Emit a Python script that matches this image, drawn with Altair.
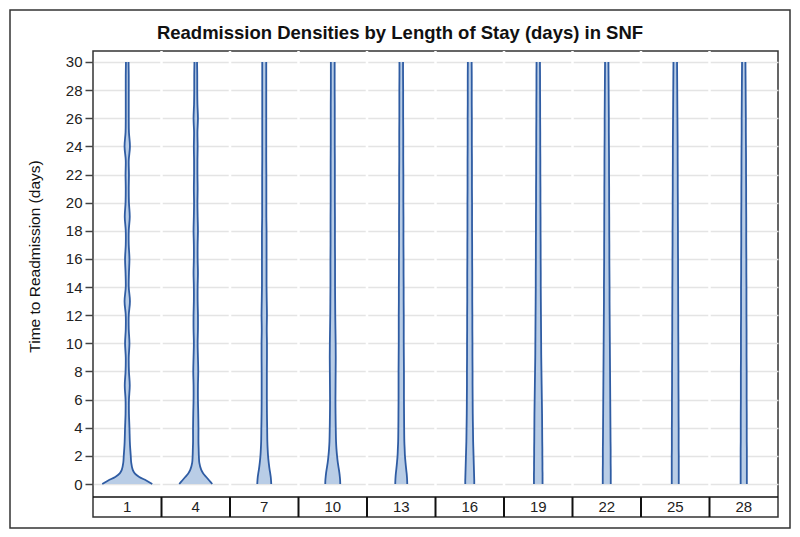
import altair as alt
import pandas as pd

FONT = "Liberation Sans"

categories = [1, 4, 7, 10, 13, 16, 19, 22, 25, 28]
y_points = [0, 0.25, 0.5, 0.75, 1, 1.5, 2, 2.5, 3, 4, 5, 6, 7, 8, 9, 10, 11, 12,
            13, 14, 15, 16, 17, 18, 19, 20, 21, 22, 23, 24, 25, 26, 27, 28, 29, 30]

# estimated half-widths of each violin (density, in pixel-like units)
dens_1 = [25, 19, 12, 7.5, 5.5, 4, 3.5, 3, 2.6, 2.2, 1.7, 1.7, 2.5, 1.7, 1.5, 2.2, 1.5, 1.5,
          2.7, 1.5, 1.7, 2.2, 1.5, 1.5, 2.5, 1.7, 1.5, 1.7, 1.5, 2.7, 1.7, 1.5, 1.5, 1.5, 1.5, 1.3]
dens_4 = [16.5, 13.5, 10.5, 7.5, 5.5, 3.6, 3.1, 2.9, 2.7, 2.7, 2.5, 2.2, 2.2, 2.5, 2.2, 1.9, 2.2, 2.2,
          1.9, 1.9, 2.2, 1.9, 1.9, 2.2, 1.9, 1.7, 1.9, 1.7, 1.7, 1.9, 1.7, 2.2, 1.7, 1.5, 1.5, 1.3]
dens_7 = [7, 6.8, 6.5, 6.0, 5.4, 4.5, 3.8, 3.4, 3.1, 2.9, 2.7, 2.6, 2.6, 2.6, 2.7, 2.7, 2.5, 2.7,
          2.5, 2.3, 2.3, 2.3, 2.3, 2.3, 2.1, 2.1, 2.1, 2.1, 2.0, 2.0, 2.0, 2.0, 2.0, 2.0, 2.0, 2.0]
dens_10 = [7.5, 7.4, 7.1, 6.7, 6.2, 5.1, 4.3, 3.7, 3.3, 3.0, 2.8, 2.7, 2.8, 2.9, 3.0, 2.9, 2.7, 2.5,
           2.4, 2.3, 2.3, 2.3, 2.2, 2.2, 2.2, 2.1, 2.1, 2.1, 2.1, 2.0, 2.0, 2.0, 2.0, 1.9, 1.9, 1.9]
dens_13 = [6, 5.9, 5.7, 5.4, 5, 4.3, 3.7, 3.4, 3.1, 2.9, 2.8, 2.7, 2.7, 2.7, 2.6, 2.5, 2.5, 2.5,
           2.4, 2.4, 2.3, 2.3, 2.2, 2.2, 2.2, 2.1, 2.1, 2.1, 2.0, 2.0, 2.0, 1.9, 1.9, 1.9, 1.8, 1.8]
dens_16 = [4.5, 4.5, 4.4, 4.3, 4.2, 4.0, 3.8, 3.6, 3.4, 3.2, 3.0, 2.9, 2.8, 2.8, 2.7, 2.7, 2.6, 2.6,
           2.5, 2.5, 2.5, 2.4, 2.4, 2.3, 2.3, 2.3, 2.2, 2.2, 2.2, 2.1, 2.1, 2.1, 2.0, 2.0, 2.0, 1.9]
dens_19 = [4.3, 4.3, 4.3, 4.3, 4.2, 4.2, 4.1, 4.1, 4.0, 3.9, 3.8, 3.6, 3.4, 3.2, 3.0, 2.9, 2.8, 2.7,
           2.6, 2.5, 2.5, 2.4, 2.4, 2.3, 2.3, 2.2, 2.2, 2.1, 2.1, 2.0, 2.0, 1.9, 1.9, 1.8, 1.8, 1.7]
dens_22 = [4.0, 4.0, 4.0, 4.0, 4.0, 3.9, 3.9, 3.9, 3.8, 3.7, 3.6, 3.5, 3.4, 3.3, 3.2, 3.1, 3.0, 2.9,
           2.8, 2.8, 2.7, 2.6, 2.6, 2.5, 2.5, 2.4, 2.4, 2.3, 2.3, 2.2, 2.1, 2.1, 2.0, 1.9, 1.8, 1.7]
dens_25 = [3.5, 3.5, 3.5, 3.5, 3.5, 3.5, 3.5, 3.4, 3.4, 3.4, 3.3, 3.3, 3.2, 3.2, 3.1, 3.1, 3.0, 3.0,
           2.9, 2.9, 2.8, 2.8, 2.7, 2.7, 2.6, 2.6, 2.5, 2.5, 2.4, 2.4, 2.3, 2.2, 2.1, 2.0, 1.9, 1.8]
dens_28 = [3.1, 3.1, 3.1, 3.1, 3.1, 3.1, 3.1, 3.1, 3.0, 3.0, 3.0, 2.9, 2.9, 2.9, 2.8, 2.8, 2.8, 2.7,
           2.7, 2.7, 2.6, 2.6, 2.5, 2.5, 2.5, 2.4, 2.4, 2.3, 2.3, 2.2, 2.1, 2.1, 2.0, 1.9, 1.8, 1.7]

densities = [dens_1, dens_4, dens_7, dens_10, dens_13, dens_16, dens_19, dens_22, dens_25, dens_28]

TITLE = "Readmission Densities by Length of Stay (days) in SNF"
Y_TITLE = "Time to Readmission (days)"
y_ticks = list(range(0, 31, 2))

W, H = 685, 466
CELL_PX = W / len(categories)
Y_MIN, Y_MAX = -2.345, 30.78
TABLE_TOP, TABLE_MID = -0.92, -1.63

rows = []
for i, (cat, dens) in enumerate(zip(categories, densities)):
    for yv, d in zip(y_points, dens):
        off = d / CELL_PX
        rows.append({"cat": cat, "y": yv, "left": i + 0.5 - off, "right": i + 0.5 + off})
df = pd.DataFrame(rows)
lines = df.melt(id_vars=["cat", "y"], value_vars=["left", "right"], var_name="side", value_name="xp")

cat_df = pd.DataFrame({"cat": [str(c) for c in categories],
                       "xc": [i + 0.5 for i in range(len(categories))]})
bound_df = pd.DataFrame({"b": list(range(1, len(categories)))})
one = pd.DataFrame({"t": [TITLE]})

xs = alt.Scale(domain=[0, len(categories)], nice=False, zero=False)
ys = alt.Scale(domain=[Y_MIN, Y_MAX], nice=False, zero=False)

yaxis = alt.Axis(values=y_ticks, grid=True, gridColor="#e4e4e4", gridWidth=1.5, domain=False,
                 tickColor="#444", tickSize=8, tickWidth=1.5, labelFontSize=15, labelColor="#222",
                 labelFont=FONT, labelPadding=3, labelOverlap=False, labelBound=False,
                 title=Y_TITLE, titleFont=FONT, titleFontSize=15.5,
                 titleFontWeight="normal", titleColor="#111", titleX=-59, titleY=205,
                 titleAngle=-90, titleAlign="center", titleBaseline="middle")


def Y(**kw):
    return alt.Y(scale=ys, axis=yaxis, **kw)


area = alt.Chart(df).mark_area(orient="horizontal", color="#b9cde6", interpolate="catmull-rom").encode(
    y=Y(field="y", type="quantitative"),
    x=alt.X("left:Q", scale=xs, axis=None),
    x2="right:Q",
    detail="cat:N",
)

white_rules = alt.Chart(bound_df).mark_rule(color="white", strokeWidth=2.5).encode(
    x=alt.X("b:Q", scale=xs, axis=None),
    y=Y(datum=TABLE_TOP),
    y2=alt.datum(Y_MAX),
)

outline = alt.Chart(lines).mark_line(color="#2f5ca3", strokeWidth=1.8, interpolate="catmull-rom").encode(
    y=Y(field="y", type="quantitative"),
    x=alt.X("xp:Q", scale=xs, axis=None),
    detail=["cat:N", "side:N"],
    order="y:Q",
)

table_top = alt.Chart(one).mark_rule(color="#111", strokeWidth=1.5).encode(
    x=alt.X(datum=0, scale=xs, axis=None),
    x2=alt.datum(len(categories)),
    y=Y(datum=TABLE_TOP),
)

dividers = alt.Chart(bound_df).mark_rule(color="#111", strokeWidth=2).encode(
    x=alt.X("b:Q", scale=xs, axis=None),
    y=Y(datum=TABLE_TOP),
    y2=alt.datum(Y_MIN),
)

labels = alt.Chart(cat_df).mark_text(fontSize=15, font=FONT, color="#222", baseline="middle").encode(
    x=alt.X("xc:Q", scale=xs, axis=None),
    y=Y(datum=TABLE_MID),
    text="cat:N",
)

title = alt.Chart(one).mark_text(fontSize=18.5, font=FONT, fontWeight="bold", color="#111",
                                 baseline="alphabetic", align="center", clip=False).encode(
    x=alt.value(307), y=alt.value(-12), text="t:N"
)

frame = alt.Chart(one).mark_rect(
    fill=None, stroke="#333", strokeWidth=1.5, clip=False
).encode(
    x=alt.value(-83), x2=alt.value(697), y=alt.value(-41), y2=alt.value(477)
)

chart = alt.layer(area, white_rules, outline, table_top, dividers, labels, title, frame).properties(
    width=W, height=H, padding=1,
).configure_view(stroke="#333", strokeWidth=1.5)

chart.save("out.html", embed_options={"renderer": "svg", "actions": False})
